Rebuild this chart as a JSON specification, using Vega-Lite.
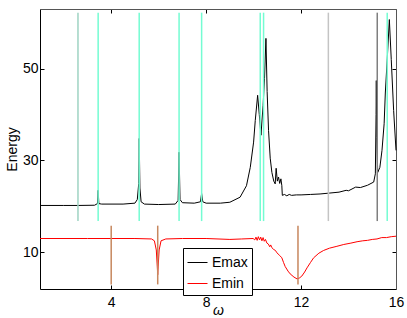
{
  "$schema": "https://vega.github.io/schema/vega-lite/v6.json",
  "width": 356,
  "height": 280,
  "autosize": "none",
  "padding": {"left": 40, "top": 9, "right": 11, "bottom": 29},
  "config": {
    "font": "Liberation Sans",
    "view": {"stroke": null},
    "axis": {"grid": false, "labelFontSize": 14, "titleFontSize": 14, "titleFontWeight": "normal", "titleColor": "#000", "labelColor": "#000", "tickColor": "#000", "tickSize": -4, "tickWidth": 1, "domainWidth": 1, "labelOverlap": false, "labelFlush": false, "labelBound": false},
    "legend": {"labelFontSize": 14, "labelColor": "#000"}
  },
  "datasets": {
    "vlines": [
      {"w": 2.60, "lo": 16.8, "hi": 62.2, "kind": "teal"},
      {"w": 3.45, "lo": 16.8, "hi": 62.2, "kind": "cyan"},
      {"w": 5.18, "lo": 16.8, "hi": 62.2, "kind": "cyan"},
      {"w": 6.86, "lo": 16.8, "hi": 62.2, "kind": "cyan"},
      {"w": 7.81, "lo": 16.8, "hi": 62.2, "kind": "cyan"},
      {"w": 10.28, "lo": 16.8, "hi": 62.2, "kind": "cyan"},
      {"w": 10.42, "lo": 16.8, "hi": 62.2, "kind": "cyan"},
      {"w": 13.15, "lo": 16.8, "hi": 62.2, "kind": "grey"},
      {"w": 15.21, "lo": 16.8, "hi": 62.2, "kind": "dgrey"},
      {"w": 15.63, "lo": 16.8, "hi": 62.2, "kind": "cyan"},
      {"w": 4.0, "lo": 3.0, "hi": 15.8, "kind": "brown"},
      {"w": 5.96, "lo": 3.0, "hi": 15.8, "kind": "brown"},
      {"w": 11.87, "lo": 3.0, "hi": 15.8, "kind": "brown"}
    ],
    "curves": [
      {"series": "Emax", "w": 1.0, "E": 20.2},
      {"series": "Emax", "w": 2.0, "E": 20.2},
      {"series": "Emax", "w": 2.6, "E": 20.2},
      {"series": "Emax", "w": 3.3, "E": 20.25},
      {"series": "Emax", "w": 3.42, "E": 20.6},
      {"series": "Emax", "w": 3.45, "E": 23.5},
      {"series": "Emax", "w": 3.48, "E": 20.6},
      {"series": "Emax", "w": 3.6, "E": 20.5},
      {"series": "Emax", "w": 4.5, "E": 20.5},
      {"series": "Emax", "w": 5.0, "E": 20.7},
      {"series": "Emax", "w": 5.1, "E": 21.5},
      {"series": "Emax", "w": 5.16, "E": 25.0},
      {"series": "Emax", "w": 5.18, "E": 34.8},
      {"series": "Emax", "w": 5.21, "E": 24.0},
      {"series": "Emax", "w": 5.26, "E": 21.0},
      {"series": "Emax", "w": 5.4, "E": 20.5},
      {"series": "Emax", "w": 6.0, "E": 20.4},
      {"series": "Emax", "w": 6.7, "E": 20.5},
      {"series": "Emax", "w": 6.82, "E": 21.3},
      {"series": "Emax", "w": 6.86, "E": 31.8},
      {"series": "Emax", "w": 6.9, "E": 21.5},
      {"series": "Emax", "w": 7.0, "E": 20.8},
      {"series": "Emax", "w": 7.5, "E": 20.7},
      {"series": "Emax", "w": 7.76, "E": 21.0},
      {"series": "Emax", "w": 7.81, "E": 22.8},
      {"series": "Emax", "w": 7.86, "E": 21.0},
      {"series": "Emax", "w": 8.0, "E": 20.7},
      {"series": "Emax", "w": 8.6, "E": 20.7},
      {"series": "Emax", "w": 9.0, "E": 20.9},
      {"series": "Emax", "w": 9.43, "E": 22.0},
      {"series": "Emax", "w": 9.7, "E": 24.5},
      {"series": "Emax", "w": 9.86, "E": 28.5},
      {"series": "Emax", "w": 10.0, "E": 34.0},
      {"series": "Emax", "w": 10.07, "E": 38.7},
      {"series": "Emax", "w": 10.17, "E": 44.2},
      {"series": "Emax", "w": 10.24, "E": 40.0},
      {"series": "Emax", "w": 10.31, "E": 35.5},
      {"series": "Emax", "w": 10.4, "E": 42.0},
      {"series": "Emax", "w": 10.46, "E": 47.9},
      {"series": "Emax", "w": 10.52, "E": 56.6},
      {"series": "Emax", "w": 10.57, "E": 45.0},
      {"series": "Emax", "w": 10.63, "E": 36.5},
      {"series": "Emax", "w": 10.7, "E": 30.5},
      {"series": "Emax", "w": 10.77, "E": 27.4},
      {"series": "Emax", "w": 10.85, "E": 25.5},
      {"series": "Emax", "w": 10.91, "E": 24.9},
      {"series": "Emax", "w": 10.95, "E": 28.3},
      {"series": "Emax", "w": 11.0, "E": 25.5},
      {"series": "Emax", "w": 11.05, "E": 26.4},
      {"series": "Emax", "w": 11.1, "E": 25.0},
      {"series": "Emax", "w": 11.15, "E": 26.0},
      {"series": "Emax", "w": 11.19, "E": 24.5},
      {"series": "Emax", "w": 11.21, "E": 22.4},
      {"series": "Emax", "w": 11.3, "E": 22.6},
      {"series": "Emax", "w": 11.4, "E": 22.3},
      {"series": "Emax", "w": 11.5, "E": 22.6},
      {"series": "Emax", "w": 11.6, "E": 22.4},
      {"series": "Emax", "w": 11.8, "E": 22.5},
      {"series": "Emax", "w": 12.0, "E": 22.5},
      {"series": "Emax", "w": 12.4, "E": 22.6},
      {"series": "Emax", "w": 12.8, "E": 22.7},
      {"series": "Emax", "w": 13.2, "E": 22.9},
      {"series": "Emax", "w": 13.6, "E": 23.1},
      {"series": "Emax", "w": 13.9, "E": 23.5},
      {"series": "Emax", "w": 14.0, "E": 23.4},
      {"series": "Emax", "w": 14.3, "E": 24.2},
      {"series": "Emax", "w": 14.5, "E": 24.1},
      {"series": "Emax", "w": 14.8, "E": 24.6},
      {"series": "Emax", "w": 15.06, "E": 25.3},
      {"series": "Emax", "w": 15.13, "E": 27.1},
      {"series": "Emax", "w": 15.16, "E": 40.0},
      {"series": "Emax", "w": 15.17, "E": 47.4},
      {"series": "Emax", "w": 15.19, "E": 35.0},
      {"series": "Emax", "w": 15.23, "E": 27.4},
      {"series": "Emax", "w": 15.32, "E": 28.5},
      {"series": "Emax", "w": 15.41, "E": 32.2},
      {"series": "Emax", "w": 15.5, "E": 38.0},
      {"series": "Emax", "w": 15.55, "E": 44.7},
      {"series": "Emax", "w": 15.64, "E": 53.0},
      {"series": "Emax", "w": 15.72, "E": 60.7},
      {"series": "Emax", "w": 15.8, "E": 52.0},
      {"series": "Emax", "w": 15.9, "E": 40.9},
      {"series": "Emax", "w": 16.0, "E": 32.2},
      {"series": "Emin", "w": 1.0, "E": 13.0},
      {"series": "Emin", "w": 3.0, "E": 13.0},
      {"series": "Emin", "w": 5.0, "E": 13.0},
      {"series": "Emin", "w": 5.7, "E": 12.9},
      {"series": "Emin", "w": 5.82, "E": 12.5},
      {"series": "Emin", "w": 5.9, "E": 10.5},
      {"series": "Emin", "w": 5.94, "E": 7.0},
      {"series": "Emin", "w": 5.96, "E": 5.1},
      {"series": "Emin", "w": 5.98, "E": 7.0},
      {"series": "Emin", "w": 6.02, "E": 10.5},
      {"series": "Emin", "w": 6.1, "E": 12.5},
      {"series": "Emin", "w": 6.3, "E": 12.9},
      {"series": "Emin", "w": 7.0, "E": 13.0},
      {"series": "Emin", "w": 8.0, "E": 13.0},
      {"series": "Emin", "w": 9.0, "E": 12.8},
      {"series": "Emin", "w": 9.5, "E": 12.9},
      {"series": "Emin", "w": 9.98, "E": 13.0},
      {"series": "Emin", "w": 10.05, "E": 12.7},
      {"series": "Emin", "w": 10.1, "E": 13.3},
      {"series": "Emin", "w": 10.15, "E": 12.6},
      {"series": "Emin", "w": 10.2, "E": 13.4},
      {"series": "Emin", "w": 10.25, "E": 12.7},
      {"series": "Emin", "w": 10.3, "E": 13.3},
      {"series": "Emin", "w": 10.35, "E": 12.5},
      {"series": "Emin", "w": 10.4, "E": 13.2},
      {"series": "Emin", "w": 10.45, "E": 12.4},
      {"series": "Emin", "w": 10.5, "E": 12.8},
      {"series": "Emin", "w": 10.56, "E": 12.0},
      {"series": "Emin", "w": 10.62, "E": 11.8},
      {"series": "Emin", "w": 10.68, "E": 11.2},
      {"series": "Emin", "w": 10.72, "E": 11.6},
      {"series": "Emin", "w": 10.77, "E": 11.0},
      {"series": "Emin", "w": 10.85, "E": 10.6},
      {"series": "Emin", "w": 10.92, "E": 10.4},
      {"series": "Emin", "w": 10.98, "E": 9.9},
      {"series": "Emin", "w": 11.1, "E": 9.3},
      {"series": "Emin", "w": 11.19, "E": 8.8},
      {"series": "Emin", "w": 11.26, "E": 7.8},
      {"series": "Emin", "w": 11.33, "E": 6.9},
      {"series": "Emin", "w": 11.45, "E": 5.9},
      {"series": "Emin", "w": 11.54, "E": 5.3},
      {"series": "Emin", "w": 11.7, "E": 4.6},
      {"series": "Emin", "w": 11.83, "E": 4.2},
      {"series": "Emin", "w": 11.93, "E": 4.4},
      {"series": "Emin", "w": 12.03, "E": 4.8},
      {"series": "Emin", "w": 12.15, "E": 5.7},
      {"series": "Emin", "w": 12.25, "E": 6.6},
      {"series": "Emin", "w": 12.4, "E": 7.8},
      {"series": "Emin", "w": 12.53, "E": 8.8},
      {"series": "Emin", "w": 12.75, "E": 9.8},
      {"series": "Emin", "w": 12.95, "E": 10.4},
      {"series": "Emin", "w": 13.2, "E": 10.9},
      {"series": "Emin", "w": 13.51, "E": 11.3},
      {"series": "Emin", "w": 13.8, "E": 11.7},
      {"series": "Emin", "w": 14.1, "E": 12.0},
      {"series": "Emin", "w": 14.36, "E": 12.3},
      {"series": "Emin", "w": 14.6, "E": 12.5},
      {"series": "Emin", "w": 14.8, "E": 12.6},
      {"series": "Emin", "w": 15.0, "E": 12.8},
      {"series": "Emin", "w": 15.2, "E": 12.9},
      {"series": "Emin", "w": 15.4, "E": 13.2},
      {"series": "Emin", "w": 15.6, "E": 13.2},
      {"series": "Emin", "w": 15.8, "E": 13.4},
      {"series": "Emin", "w": 16.0, "E": 13.5}
    ]
  },
  "layer": [
    {
      "data": {"name": "curves"},
      "mark": {"type": "line", "strokeWidth": 1},
      "encoding": {
        "x": {"field": "w", "type": "quantitative", "scale": {"domain": [1, 16], "nice": false, "zero": false},
              "axis": {"orient": "bottom", "values": [4, 8, 12, 16], "title": "ω", "titleFontStyle": "italic", "titlePadding": -6, "labelPadding": 10, "domainColor": "#000"}},
        "y": {"field": "E", "type": "quantitative", "scale": {"domain": [2, 63], "nice": false, "zero": false},
              "axis": {"orient": "left", "values": [10, 30, 50], "title": "Energy", "titlePadding": 3, "labelPadding": 6, "domainColor": "#000"}},
        "color": {"field": "series", "type": "nominal",
                  "scale": {"domain": ["Emax", "Emin"], "range": ["#000000", "#ff0000"]},
                  "legend": {"orient": "none", "legendX": 143, "legendY": 239, "title": null, "strokeColor": "#000", "fillColor": "#fff", "padding": 4, "symbolType": "stroke", "symbolSize": 400, "symbolStrokeWidth": 1, "labelOffset": 4, "rowPadding": 3, "labelFontSize": 14}}
      }
    },
    {
      "data": {"name": "vlines"},
      "mark": {"type": "rule", "strokeWidth": 1.5},
      "encoding": {
        "x": {"field": "w", "type": "quantitative",
              "axis": {"orient": "top", "values": [4, 8, 12, 16], "labels": false, "title": null, "domainColor": "#555"}},
        "y": {"field": "lo", "type": "quantitative",
              "axis": {"orient": "right", "values": [10, 30, 50], "labels": false, "title": null, "domainColor": "#555"}},
        "y2": {"field": "hi"},
        "color": {"field": "kind", "type": "nominal",
                  "scale": {"domain": ["teal", "cyan", "grey", "dgrey", "brown"], "range": ["#9fd3c3", "#74fcd2", "#c4c4c4", "#7f7f7f", "#c7875e"]},
                  "legend": null}
      }
    }
  ],
  "resolve": {"axis": {"x": "independent", "y": "independent"}, "scale": {"color": "independent"}}
}
